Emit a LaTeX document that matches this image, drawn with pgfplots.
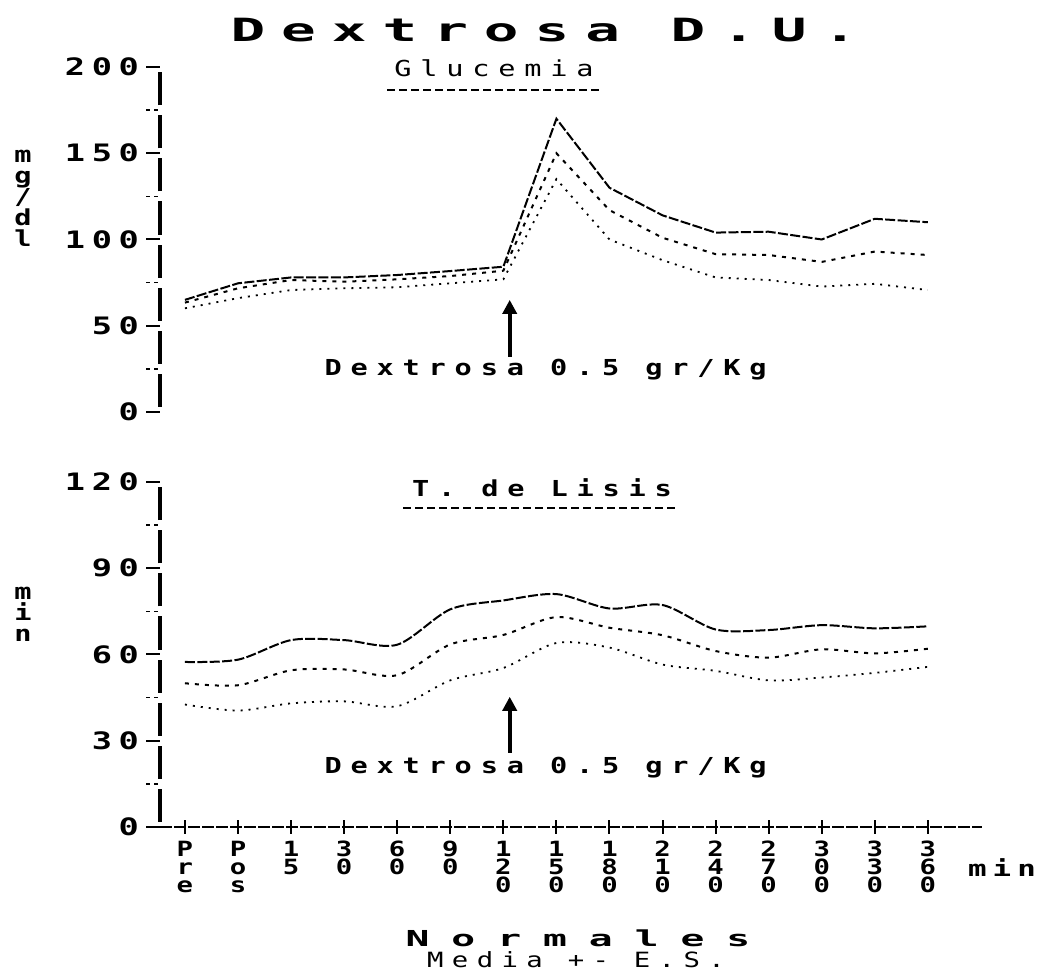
\documentclass[border=0pt]{standalone}
\usepackage{fontspec}
\usepackage{pgfplots}
\usepackage{pgfplotstable}
\pgfplotsset{compat=1.18}
\usetikzlibrary{arrows.meta}
\newfontfamily\tickF{DejaVu Sans Mono}[FakeStretch=1.4,LetterSpace=28]
\newfontfamily\labF{DejaVu Sans Mono}[FakeStretch=1.3,LetterSpace=40]
\newfontfamily\titF{DejaVu Sans Mono}[FakeStretch=1.8,LetterSpace=50]
\newfontfamily\normF{DejaVu Sans Mono}[FakeStretch=1.8,LetterSpace=100]
\newfontfamily\stackF{DejaVu Sans Mono}[FakeStretch=1.3]

% Glucemia (mg/dl): up = media + E.S., mid = media, low = media - E.S.
\pgfplotstableread{
x  up    mid   low
0  65    63.4  60.1
1  74.6  71.7  66
2  78    76.5  70.7
3  78    75.5  71.7
4  79.4  76.9  72.3
5  81.7  78.8  74.6
6  84.2  81.9  76.9
7  170   150   135
8  130   117   100
9  114   101   88
10 104   91.5  78
11 104.5 91    76.5
12 100   87    72.7
13 112   93    74.3
14 110   91    70.7
}\glu

% T. de Lisis (min)
\pgfplotstableread{
x  up    mid   low
0  57.4  50    42.6
1  58.2  49.3  40.5
2  65    54.5  43
3  65    54.8  43.7
4  63.4  52.8  42
5  75.7  63.5  51
6  78.8  66.8  55.3
7  81    73    64
8  76    69.3  62.4
9  77.2  66.7  56.5
10 68.7  61.2  54.3
11 68.5  58.9  51
12 70.2  61.8  52
13 69.1  60.4  53.6
14 69.8  62    55.7
}\lis

\pgfplotsset{
  panel/.style={
    scale only axis, width=411pt, height=172.5pt,
    xmin=-0.47, xmax=15.02, ymin=0,
    axis y line=left,
    y axis line style={-, line width=2pt, dash pattern=on 16.56pt off 5pt, dash phase=19.06pt},
    tick align=outside, major tick length=7pt, minor tick length=7pt,
    major tick style={line width=1pt, black},
    minor tick style={line width=0.8pt, dash pattern=on 2pt off 2pt, black},
    yticklabel style={font=\tickF\bfseries\fontsize{12}{14}\selectfont,
      /pgf/number format/assume math mode=true},
    clip=false,
  },
  upS/.style={black, line width=1pt, dash pattern=on 5pt off 1.2pt},
  midS/.style={black, line width=1pt, dash pattern=on 2pt off 3pt},
  lowS/.style={black, line width=0.9pt, dash pattern=on 1pt off 3pt},
}

\begin{document}
\begin{tikzpicture}
\path[use as bounding box] (0,0) rectangle (519.5pt,486pt);

\node[font=\titF\bfseries\fontsize{16}{18}\selectfont] at (272pt,471pt) {Dextrosa D.U.};

% ---- Glucemia ----
\begin{axis}[panel, at={(80pt,280pt)}, anchor=south west,
  ymax=200, axis x line=none, xtick=\empty,
  ytick={0,50,100,150,200}, minor ytick={25,75,125,175}]
\addplot[upS] table[x=x,y=up]{\glu};
\addplot[midS] table[x=x,y=mid]{\glu};
\addplot[lowS] table[x=x,y=low]{\glu};
\draw[line width=2pt, -{Triangle[width=7pt,length=7pt]}] (axis cs:6.12,32) -- (axis cs:6.12,65);
\node[anchor=west, font=\labF\bfseries\fontsize{11}{13}\selectfont] at (axis cs:2.5,24.3) {Dextrosa 0.5 gr/Kg};
\end{axis}

% ---- T. de Lisis ----
\begin{axis}[panel, at={(80pt,72.5pt)}, anchor=south west,
  ymax=120, axis x line=bottom,
  x axis line style={-, line width=0.6pt, dash pattern=on 6pt off 1pt},
  ytick={0,30,60,90,120}, minor ytick={15,45,75,105},
  xtick={0,...,14},
  xticklabels={{P\\r\\e},{P\\o\\s},{1\\5},{3\\0},{6\\0},{9\\0},{1\\2\\0},{1\\5\\0},{1\\8\\0},{2\\1\\0},{2\\4\\0},{2\\7\\0},{3\\0\\0},{3\\3\\0},{3\\6\\0}},
  xticklabel style={align=center, font=\stackF\bfseries\fontsize{10.5}{9}\selectfont, anchor=north}]
\addplot[upS, smooth] table[x=x,y=up]{\lis};
\addplot[midS, smooth] table[x=x,y=mid]{\lis};
\addplot[lowS, smooth] table[x=x,y=low]{\lis};
\draw[line width=2pt, -{Triangle[width=7pt,length=7pt]}] (axis cs:6.12,25.8) -- (axis cs:6.12,45.3);
\node[anchor=west, font=\labF\bfseries\fontsize{11}{13}\selectfont] at (axis cs:2.5,20.6) {Dextrosa 0.5 gr/Kg};
\end{axis}

% titles of panels
\node[font=\labF\fontsize{11}{13}\selectfont] at (247pt,452pt) {Glucemia};
\draw[line width=0.6pt, dash pattern=on 4pt off 2pt] (193.5pt,441pt) -- (300pt,441pt);
\node[font=\labF\bfseries\fontsize{11}{13}\selectfont] at (271pt,242pt) {T. de Lisis};
\draw[line width=0.6pt, dash pattern=on 4pt off 2pt] (201.5pt,232pt) -- (337.5pt,232pt);

% axis units
\node[font=\stackF\bfseries\fontsize{11}{10.5}\selectfont, align=center] at (11.5pt,387pt) {m\\g\\/\\d\\l};
\node[font=\stackF\bfseries\fontsize{11}{10.5}\selectfont, align=center] at (11.5pt,179pt) {m\\i\\n};
\node[font=\tickF\bfseries\fontsize{11}{12}\selectfont] at (501pt,52pt) {min};

% footer
\node[font=\normF\bfseries\fontsize{11}{12}\selectfont] at (289pt,17pt) {Normales};
\node[font=\labF\fontsize{10.5}{11}\selectfont] at (288pt,6pt) {Media +- E.S.};
\end{tikzpicture}
\end{document}
